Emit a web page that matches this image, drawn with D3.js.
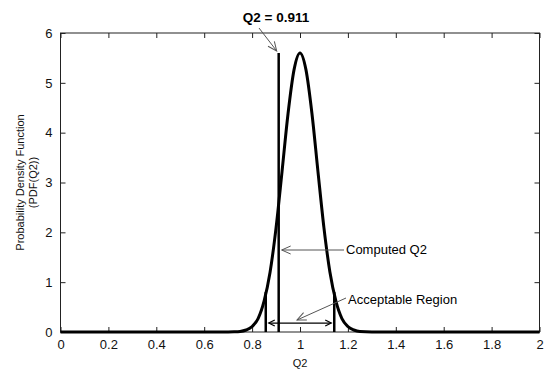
<!DOCTYPE html>
<html><head><meta charset="utf-8">
<script src="https://cdn.jsdelivr.net/npm/d3@7"></script>
<style>body{margin:0;background:#fff}svg{display:block}text{font-family:"Liberation Sans",Arial,sans-serif}</style>
</head><body><svg id="c" width="544" height="369"></svg>
<script>
// Data
const curveX = [0, 0.6, 0.7, 0.725, 0.75, 0.775, 0.8, 0.825, 0.85, 0.875, 0.9, 0.925, 0.95, 0.975, 1.0, 1.025, 1.05, 1.075, 1.1, 1.125, 1.15, 1.175, 1.2, 1.225, 1.25, 1.3, 1.4, 2];
const curveY = [0, 0, 0.001, 0.003, 0.01, 0.04, 0.11, 0.27, 0.62, 1.2, 2.09, 3.22, 4.38, 5.26, 5.6, 5.26, 4.38, 3.22, 2.09, 1.2, 0.62, 0.27, 0.11, 0.04, 0.01, 0.001, 0, 0];
const computedQ2 = 0.911;
const computedQ2Top = 5.6;
const regionBounds = [0.857, 1.143];
const regionHeights = [0.8, 0.8];
const regionArrowY = 0.18;
const xTicks = [0, 0.2, 0.4, 0.6, 0.8, 1, 1.2, 1.4, 1.6, 1.8, 2];
const yTicks = [0, 1, 2, 3, 4, 5, 6];
const titleText = "Q2 = 0.911";
const xLabel = "Q2";
const yLabel = ["Probability Density Function", "(PDF(Q2))"];
const labelComputed = "Computed Q2";
const labelRegion = "Acceptable Region";
</script>
<script>
(function () {
const svg = d3.select("#c");
const L = 60.5, R = 539.5, T = 33, B = 332;
const x = d3.scaleLinear().domain([0, 2]).range([L, R]);
const y = d3.scaleLinear().domain([0, 6]).range([B, T]);

const defs = svg.append("defs");
defs.append("marker").attr("id", "ah").attr("viewBox", "-10 -5 12 10").attr("refX", 0).attr("refY", 0)
  .attr("markerWidth", 12).attr("markerHeight", 10).attr("markerUnits", "userSpaceOnUse").attr("orient", "auto")
  .append("path").attr("d", "M-9,-4 L0,0 L-9,4").attr("fill", "none").attr("stroke", "#555").attr("stroke-width", 1);
defs.append("marker").attr("id", "ahb").attr("viewBox", "-8 -4 10 8").attr("refX", 0).attr("refY", 0)
  .attr("markerWidth", 10).attr("markerHeight", 8).attr("markerUnits", "userSpaceOnUse").attr("orient", "auto-start-reverse")
  .append("path").attr("d", "M-6,-3 L0,0 L-6,3").attr("fill", "none").attr("stroke", "#000").attr("stroke-width", 1.2);

const ax = "#222";
svg.append("rect").attr("x", L).attr("y", T).attr("width", R - L).attr("height", B - T)
  .attr("fill", "none").attr("stroke", ax).attr("stroke-width", 1);
const gB = svg.append("g").attr("transform", `translate(0,${B})`)
  .call(d3.axisBottom(x).tickValues(xTicks).tickSizeInner(-5).tickSizeOuter(0).tickPadding(8).tickFormat(d3.format("~g")));
const gT = svg.append("g").attr("transform", `translate(0,${T})`)
  .call(d3.axisTop(x).tickValues(xTicks).tickSizeInner(-5).tickSizeOuter(0).tickFormat(""));
const gL = svg.append("g").attr("transform", `translate(${L},0)`)
  .call(d3.axisLeft(y).tickValues(yTicks).tickSizeInner(-5).tickSizeOuter(0).tickPadding(8).tickFormat(d3.format("d")));
const gR = svg.append("g").attr("transform", `translate(${R},0)`)
  .call(d3.axisRight(y).tickValues(yTicks).tickSizeInner(-5).tickSizeOuter(0).tickFormat(""));
[gB, gT, gL, gR].forEach(g => {
  g.select(".domain").remove();
  g.selectAll("line").attr("stroke", ax);
  g.selectAll("text").attr("font-size", 13).attr("fill", "#111").attr("font-family", "Liberation Sans, Arial, sans-serif");
});

const pts = curveX.map((v, i) => [v, curveY[i]]);
svg.append("path").datum(pts)
  .attr("d", d3.line().x(d => x(d[0])).y(d => y(d[1])).curve(d3.curveMonotoneX))
  .attr("fill", "none").attr("stroke", "#000").attr("stroke-width", 3).attr("stroke-linejoin", "round");

svg.append("line").attr("x1", x(computedQ2)).attr("x2", x(computedQ2)).attr("y1", y(0)).attr("y2", y(computedQ2Top))
  .attr("stroke", "#000").attr("stroke-width", 2.5);
regionBounds.forEach((b, i) => {
  svg.append("line").attr("x1", x(b)).attr("x2", x(b)).attr("y1", y(0)).attr("y2", y(regionHeights[i]))
    .attr("stroke", "#000").attr("stroke-width", 2.5);
});
svg.append("line").attr("x1", x(regionBounds[0]) + 3).attr("x2", x(regionBounds[1]) - 3)
  .attr("y1", y(regionArrowY)).attr("y2", y(regionArrowY))
  .attr("stroke", "#000").attr("stroke-width", 1.2)
  .attr("marker-start", "url(#ahb)").attr("marker-end", "url(#ahb)");

svg.append("text").attr("x", 276).attr("y", 22).attr("text-anchor", "middle")
  .attr("font-size", 13.5).attr("font-weight", "bold").attr("fill", "#000").text(titleText);
svg.append("line").attr("x1", 259).attr("y1", 28).attr("x2", x(computedQ2) - 2).attr("y2", y(computedQ2Top) - 2)
  .attr("stroke", "#555").attr("stroke-width", 1).attr("marker-end", "url(#ah)");

svg.append("line").attr("x1", 344).attr("y1", 250).attr("x2", x(computedQ2) + 3).attr("y2", 250)
  .attr("stroke", "#555").attr("stroke-width", 1).attr("marker-end", "url(#ah)");
svg.append("text").attr("x", 346).attr("y", 254).attr("font-size", 13).attr("fill", "#000").text(labelComputed);

svg.append("line").attr("x1", 346).attr("y1", 298).attr("x2", 297).attr("y2", 320)
  .attr("stroke", "#555").attr("stroke-width", 1).attr("marker-end", "url(#ah)");
svg.append("text").attr("x", 348).attr("y", 304).attr("font-size", 13).attr("fill", "#000").text(labelRegion);

svg.append("text").attr("x", x(1)).attr("y", 367).attr("text-anchor", "middle").attr("font-size", 11).attr("fill", "#111").text(xLabel);
const yl = svg.append("text").attr("transform", `translate(24,${(T + B) / 2}) rotate(-90)`)
  .attr("text-anchor", "middle").attr("font-size", 11).attr("fill", "#111");
yl.append("tspan").attr("x", 0).attr("dy", 0).text(yLabel[0]);
yl.append("tspan").attr("x", 0).attr("dy", 13).text(yLabel[1]);
})();
</script></body></html>
